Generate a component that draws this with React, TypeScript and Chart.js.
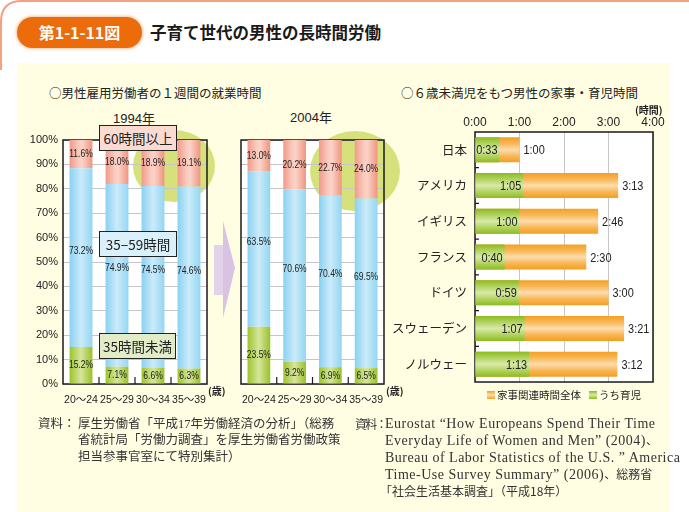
import React, { useEffect, useRef } from 'react';
import { Chart, registerables } from 'chart.js';

Chart.register(...registerables);

// ---------- data ----------
const ageGroups = ['20～24', '25～29', '30～34', '35～39'];
const over60h1994 = [11.6, 18.0, 18.9, 19.1];
const mid35to59h1994 = [73.2, 74.9, 74.5, 74.6];
const under35h1994 = [15.2, 7.1, 6.6, 6.3];
const over60h2004 = [13.0, 20.2, 22.7, 24.0];
const mid35to59h2004 = [63.5, 70.6, 70.4, 69.5];
const under35h2004 = [23.5, 9.2, 6.9, 6.5];

const countries = ['日本', 'アメリカ', 'イギリス', 'フランス', 'ドイツ', 'スウェーデン', 'ノルウェー'];
const houseworkTotalMin = [60, 193, 166, 150, 180, 201, 192];
const childcareMin = [33, 65, 60, 40, 59, 67, 73];
const hourTickLabels = ['0:00', '1:00', '2:00', '3:00', '4:00'];

// ---------- styles ----------
const JP = '"Noto Sans CJK JP", "Noto Sans", sans-serif';
const SANS = '"Liberation Sans", Arial, "Noto Sans CJK JP", sans-serif';
const SERIF = '"Liberation Serif", "DejaVu Serif", "Noto Sans CJK JP", serif';
const CREAM = '#FFFEE2';
const BLOB = '#D7E17B';

const PINK = [[0, '#F2998A'], [0.4, '#F9CBBE'], [0.55, '#FAD3C8'], [1, '#F0947F']];
const BLUE = [[0, '#8AD1F2'], [0.5, '#CBEBF9'], [1, '#93D6F3']];
const GREEN_V = [[0, '#9DC42B'], [0.5, '#D6E69C'], [1, '#9AC128']];
const ORANGE_H = [[0, '#F4A022'], [0.25, '#F8B757'], [0.5, '#FDDDAE'], [0.75, '#F8B757'], [1, '#F39E20']];
const GREEN_H = [[0, '#8CBB1C'], [0.5, '#D8EAA8'], [1, '#8DBC1D']];

const V_BAR_PCT = 0.635;
const H_BAR_PCT = 0.7;

function colGrad(stops: any[], n: number, pct: number, horizontalBars: boolean) {
  return (c: any) => {
    const chart = c.chart;
    const a = chart.chartArea;
    if (!a || c.type !== 'data') return stops[0][1];
    const ctx = chart.ctx;
    let g;
    if (!horizontalBars) {
      const cx = chart.scales.x.getPixelForValue(c.dataIndex);
      const w = (a.width / n) * pct;
      g = ctx.createLinearGradient(cx - w / 2, 0, cx + w / 2, 0);
    } else {
      const cy = chart.scales.y.getPixelForValue(c.dataIndex);
      const h = (a.height / n) * pct;
      g = ctx.createLinearGradient(0, cy - h / 2, 0, cy + h / 2);
    }
    stops.forEach(([o, col]) => g.addColorStop(o, col));
    return g;
  };
}

const fmtMin = (m: number) => `${Math.floor(m / 60)}:${String(m % 60).padStart(2, '0')}`;

function condensedText(ctx: any, text: string, x: number, y: number, sx: number) {
  ctx.save();
  ctx.translate(x, y);
  ctx.scale(sx, 1);
  ctx.fillText(text, 0, 0);
  ctx.restore();
}

const framePlugin = {
  id: 'frame',
  beforeDraw(chart: any, _a: any, opts: any) {
    const { ctx, chartArea: a } = chart;
    ctx.save();
    ctx.fillStyle = '#ffffff';
    ctx.fillRect(a.left, a.top, a.width, a.height);
    if (opts.blob) {
      ctx.fillStyle = BLOB;
      ctx.beginPath();
      ctx.ellipse(opts.blob.cx, opts.blob.cy, opts.blob.rx, opts.blob.ry, 0, 0, Math.PI * 2);
      ctx.fill();
    }
    ctx.restore();
  },
  beforeDatasetsDraw(chart: any, _a: any, opts: any) {
    const { ctx, chartArea: a } = chart;
    ctx.save();
    ctx.strokeStyle = '#1a1a1a';
    ctx.lineWidth = 1.5;
    ctx.strokeRect(a.left, a.top, a.width, a.height);
    ctx.lineWidth = 1.2;
    ctx.beginPath();
    if (opts.mode === 'vertical') {
      const xs = chart.scales.x;
      for (let i = 1; i < chart.data.labels.length; i++) {
        const x = (xs.getPixelForValue(i - 1) + xs.getPixelForValue(i)) / 2;
        ctx.moveTo(x, a.bottom);
        ctx.lineTo(x, a.bottom - 7);
      }
    } else {
      const ys = chart.scales.y;
      for (let i = 1; i < chart.data.labels.length; i++) {
        const y = (ys.getPixelForValue(i - 1) + ys.getPixelForValue(i)) / 2;
        ctx.moveTo(a.left, y);
        ctx.lineTo(a.left + 4, y);
      }
    }
    ctx.stroke();
    ctx.restore();
  },
  afterDatasetsDraw(chart: any, _a: any, opts: any) {
    const { ctx } = chart;
    ctx.save();
    ctx.fillStyle = '#222';
    ctx.textBaseline = 'middle';
    chart.data.datasets.forEach((ds: any, di: number) => {
      const meta = chart.getDatasetMeta(di);
      meta.data.forEach((el: any, i: number) => {
        const v = ds.data[i];
        const p = el.getProps(['x', 'y', 'base'], true);
        if (opts.mode === 'vertical') {
          ctx.font = `11.5px ${SANS}`;
          ctx.textAlign = 'center';
          const cy = (p.y + p.base) / 2 + (ds.labelShift || 0);
          condensedText(ctx, v.toFixed(1) + '%', p.x, cy, 0.74);
        } else {
          ctx.font = `13px ${SANS}`;
          if (ds.inner) {
            ctx.textAlign = 'right';
            condensedText(ctx, fmtMin(v), p.x - 2, p.y + 1, 0.84);
          } else {
            ctx.textAlign = 'left';
            condensedText(ctx, fmtMin(v), p.x + 4, p.y + 1, 0.84);
          }
        }
      });
    });
    ctx.restore();
  },
};

function stackedConfig(over: number[], mid: number[], under: number[], showY: boolean, yWidth: number, rightPad: number, blob: any) {
  const n = ageGroups.length;
  return {
    type: 'bar',
    data: {
      labels: ageGroups,
      datasets: [
        { label: '35時間未満', data: under, backgroundColor: colGrad(GREEN_V, n, V_BAR_PCT, false) },
        { label: '35−59時間', data: mid, backgroundColor: colGrad(BLUE, n, V_BAR_PCT, false), labelShift: -7 },
        { label: '60時間以上', data: over, backgroundColor: colGrad(PINK, n, V_BAR_PCT, false) },
      ],
    },
    options: {
      animation: false,
      responsive: false,
      maintainAspectRatio: false,
      datasets: { bar: { categoryPercentage: 1, barPercentage: V_BAR_PCT, borderWidth: 0 } },
      layout: { padding: { top: 10, right: rightPad, left: 0, bottom: 0 } },
      plugins: {
        legend: { display: false },
        tooltip: { enabled: false },
        frame: { mode: 'vertical', blob },
      },
      scales: {
        x: {
          stacked: true,
          grid: { display: false, drawTicks: false },
          border: { display: false },
          ticks: { font: { family: SANS, size: 10.5 }, color: '#222', padding: 10, maxRotation: 0, autoSkip: false },
          afterFit: (s: any) => { s.height = 36; s.paddingLeft = 0; s.paddingRight = 0; },
        },
        y: {
          stacked: true,
          min: 0,
          max: 100,
          grid: { color: '#c6c6c6', drawTicks: false, lineWidth: 1 },
          border: { display: false },
          ticks: {
            display: showY,
            stepSize: 10,
            padding: 5,
            color: '#222',
            font: { family: SANS, size: 11 },
            callback: (v: any) => v + '%',
          },
          afterFit: (s: any) => { s.width = yWidth; s.paddingTop = 0; s.paddingBottom = 0; },
        },
      },
    },
    plugins: [framePlugin],
  };
}

function hbarConfig() {
  const n = countries.length;
  return {
    type: 'bar',
    data: {
      labels: countries,
      datasets: [
        { label: '家事関連時間全体', data: houseworkTotalMin, backgroundColor: colGrad(ORANGE_H, n, H_BAR_PCT, true), grouped: false, order: 1 },
        { label: 'うち育児', data: childcareMin, backgroundColor: colGrad(GREEN_H, n, H_BAR_PCT, true), grouped: false, order: 0, inner: true },
      ],
    },
    options: {
      indexAxis: 'y',
      animation: false,
      responsive: false,
      maintainAspectRatio: false,
      datasets: { bar: { categoryPercentage: 1, barPercentage: H_BAR_PCT, borderWidth: 0 } },
      layout: { padding: { top: 0, right: 36, left: 0, bottom: 8 } },
      plugins: {
        legend: { display: false },
        tooltip: { enabled: false },
        frame: { mode: 'horizontal' },
      },
      scales: {
        x: {
          position: 'top',
          min: 0,
          max: 240,
          grid: { color: '#c6c6c6', drawTicks: false },
          border: { display: false },
          ticks: {
            stepSize: 60,
            padding: 2,
            color: '#222',
            font: { family: SANS, size: 12 },
            callback: (v: any) => hourTickLabels[Math.round(v / 60)],
          },
          afterFit: (s: any) => { s.height = 32; s.paddingLeft = 0; s.paddingRight = 0; },
        },
        y: {
          grid: { display: false, drawTicks: false },
          border: { display: false },
          ticks: { padding: 8, color: '#222', font: { family: JP, size: 12.5 } },
          afterFit: (s: any) => { s.width = 85; s.paddingTop = 0; s.paddingBottom = 0; },
        },
      },
    },
    plugins: [framePlugin],
  };
}

function ChartCanvas({ left, top, width, height, make }: any) {
  const ref = useRef<HTMLCanvasElement>(null);
  useEffect(() => {
    const chart = new Chart(ref.current as any, make() as any);
    return () => chart.destroy();
  }, []);
  return (
    <canvas
      ref={ref}
      width={width}
      height={height}
      style={{ position: 'absolute', left, top, width, height }}
    />
  );
}

const T = (props: any) => {
  const { x, y, size = 12, family = JP, weight = 400, color = '#222', children, center, style } = props;
  return (
    <div
      style={{
        position: 'absolute',
        left: center ? x - 100 : x,
        width: center ? 200 : undefined,
        textAlign: center ? 'center' : 'left',
        top: y - size / 2,
        fontSize: size,
        lineHeight: `${size}px`,
        fontFamily: family,
        fontWeight: weight,
        color,
        whiteSpace: 'nowrap',
        ...style,
      }}
    >
      {children}
    </div>
  );
};

const LabelBox = ({ x, y, w, h, bg, children }: any) => (
  <div
    style={{
      position: 'absolute',
      left: x,
      top: y,
      width: w,
      height: h,
      boxSizing: 'border-box',
      border: '1px solid #222',
      background: bg,
      fontFamily: JP,
      fontSize: 13.5,
      lineHeight: `${h - 2}px`,
      textAlign: 'center',
      color: '#222',
      whiteSpace: 'nowrap',
    }}
  >
    {children}
  </div>
);

const J = ({ children }: any) => (
  <span style={{ fontFamily: JP, fontSize: 12, letterSpacing: 0 }}>{children}</span>
);

export default function App() {
  return (
    <div style={{ position: 'absolute', left: 0, top: 0, width: 689, height: 512, background: '#fff', overflow: 'hidden' }}>
      {/* frame line */}
      <svg width={689} height={80} style={{ position: 'absolute', left: 0, top: 0 }}>
        <path d="M1,70 L1,22 Q1,1 22,1 L689,1" fill="none" stroke="#F3A27F" strokeWidth={2} />
      </svg>
      {/* header */}
      <div
        style={{
          position: 'absolute', left: 17, top: 17, width: 125, height: 31, borderRadius: 16,
          background: '#EC6C0C', boxShadow: '0 0 3px 1px rgba(240,150,90,0.6)',
          color: '#fff', fontFamily: JP, fontWeight: 700, fontSize: 16, lineHeight: '31px', textAlign: 'center',
        }}
      >
        第1-1-11図
      </div>
      <T x={150} y={32} size={16.5} weight={700} color="#1a1a1a">子育て世代の男性の長時間労働</T>

      {/* cream panel */}
      <div style={{ position: 'absolute', left: 17, top: 63, width: 653, height: 449, background: CREAM }} />

      <T x={49} y={93} size={12.5}>○男性雇用労働者の１週間の就業時間</T>
      <T x={401} y={93} size={12.5}>○６歳未満児をもつ男性の家事・育児時間</T>

      <T x={134} y={118} size={13} family={SANS} center>1994年</T>
      <T x={311} y={117} size={13} family={SANS} center>2004年</T>

      {/* arrow */}
      <svg width={40} height={110} style={{ position: 'absolute', left: 205, top: 215 }}>
        <rect x={9} y={30} width={9} height={50} fill="#E3D3EA" />
        <polygon points="18,6 30,53 18,103" fill="#D9C3E2" />
      </svg>

      <ChartCanvas left={20} top={130} width={216} height={290}
        make={() => stackedConfig(over60h1994, mid35to59h1994, under35h1994, true, 43, 29, { cx: 154, cy: 36, rx: 41, ry: 36 })} />
      <ChartCanvas left={236} top={130} width={168} height={290}
        make={() => stackedConfig(over60h2004, mid35to59h2004, under35h2004, false, 5, 20, { cx: 119, cy: 41, rx: 45, ry: 40 })} />
      <ChartCanvas left={390} top={100} width={299} height={290} make={hbarConfig} />

      <T x={208} y={391} size={10} weight={700}>(歳)</T>
      <T x={386} y={391} size={10} weight={700}>(歳)</T>
      <T x={635} y={110} size={10} weight={700}>(時間)</T>

      <LabelBox x={99} y={125} w={78} h={26} bg="#FBDAD1">60時間以上</LabelBox>
      <LabelBox x={99} y={231} w={78} h={26} bg="#DAF0FA">35−59時間</LabelBox>
      <LabelBox x={99} y={333} w={77} h={26} bg="#E2EDC8">35時間未満</LabelBox>

      {/* legend */}
      <div style={{ position: 'absolute', left: 487, top: 391, width: 8, height: 8, background: 'linear-gradient(#F4A022, #FDDDAE, #F4A022)' }} />
      <T x={497} y={395} size={10.5}>家事関連時間全体</T>
      <div style={{ position: 'absolute', left: 589, top: 391, width: 8, height: 8, background: 'linear-gradient(#8CBB1C, #D8EAA8, #8CBB1C)' }} />
      <T x={599} y={395} size={10.5}>うち育児</T>

      {/* sources */}
      <div style={{ position: 'absolute', left: 38, top: 416, fontFamily: SERIF, fontSize: 12.5, lineHeight: '16.3px', color: '#333', display: 'flex', whiteSpace: 'nowrap' }}>
        <div style={{ width: 40 }}>資料：</div>
        <div>
          <div>厚生労働省「平成17年労働経済の分析」（総務</div>
          <div>省統計局「労働力調査」を厚生労働省労働政策</div>
          <div>担当参事官室にて特別集計）</div>
        </div>
      </div>
      <div style={{ position: 'absolute', left: 355, top: 416, fontFamily: SERIF, fontSize: 14, lineHeight: '16.3px', color: '#333', display: 'flex', whiteSpace: 'nowrap' }}>
        <div style={{ width: 30, fontFamily: JP, fontSize: 12, letterSpacing: -1.8 }}>資料：</div>
        <div style={{ letterSpacing: 0.5 }}>
          <div>Eurostat “How Europeans Spend Their Time</div>
          <div>Everyday Life of Women and Men” (2004)<J>、</J></div>
          <div>Bureau of Labor Statistics of the U.S. ” America</div>
          <div>Time-Use Survey Summary” (2006)<J>、総務省</J></div>
          <div style={{ marginLeft: -5 }}><J>「社会生活基本調査」（平成18年）</J></div>
        </div>
      </div>
    </div>
  );
}
